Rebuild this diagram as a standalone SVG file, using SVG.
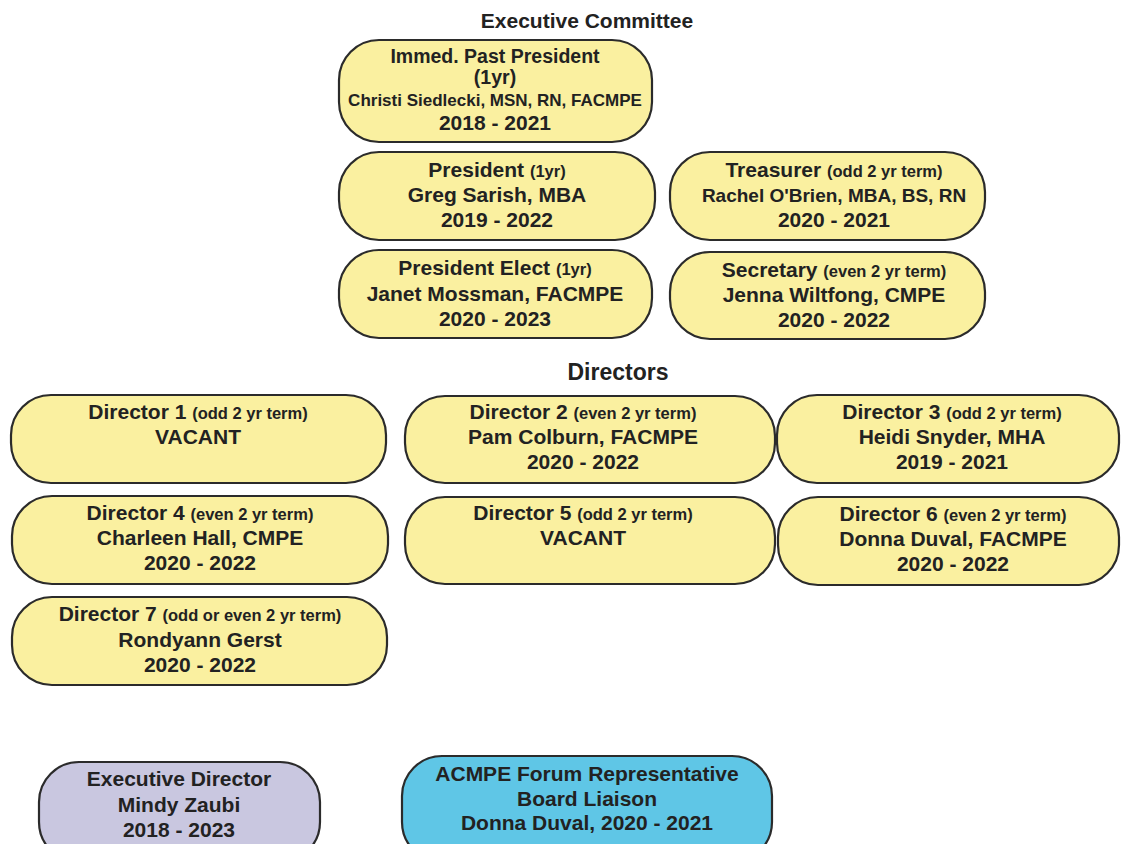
<svg xmlns="http://www.w3.org/2000/svg" width="1121" height="844" viewBox="0 0 1121 844">
<style>
.box{stroke:#2b2b2b;stroke-width:2.2;}
.y{fill:#faf0a0;}
.p{fill:#c9c7e0;}
.b{fill:#5fc6e6;}
text{font-family:"Liberation Sans",Arial,sans-serif;font-weight:bold;fill:#222;text-anchor:middle;}
.m{font-size:21px;}
.i{font-size:19.5px;}
.s{font-size:16.5px;}
.c{font-size:17px;}
.r{font-size:19px;}
.t{font-size:21px;}
.d{font-size:23px;}
</style>
<rect width="1121" height="844" fill="#ffffff"/>
<g id="titles">
<text class="t" x="587" y="28">Executive Committee</text>
<text class="d" x="618" y="380">Directors</text>
</g>
<g id="connectors"></g>
<g id="immed-past-president">
<rect class="box y" x="339" y="40" width="313" height="102" rx="40" ry="40"/>
<text class="i" x="495" y="63">Immed. Past President</text>
<text class="i" x="495" y="84">(1yr)</text>
<text class="c" x="495" y="106">Christi Siedlecki, MSN, RN, FACMPE</text>
<text class="m" x="495" y="130">2018 - 2021</text>
</g>
<g id="president">
<rect class="box y" x="339" y="152" width="316" height="88" rx="40" ry="40"/>
<text class="m" x="497" y="177">President <tspan class="s">(1yr)</tspan></text>
<text class="m" x="497" y="202">Greg Sarish, MBA</text>
<text class="m" x="497" y="227">2019 - 2022</text>
</g>
<g id="treasurer">
<rect class="box y" x="670" y="152" width="315" height="88" rx="40" ry="40"/>
<text class="m" x="834" y="177">Treasurer <tspan class="s">(odd 2 yr term)</tspan></text>
<text class="r" x="834" y="202">Rachel O'Brien, MBA, BS, RN</text>
<text class="m" x="834" y="227">2020 - 2021</text>
</g>
<g id="president-elect">
<rect class="box y" x="339" y="250" width="313" height="88" rx="40" ry="40"/>
<text class="m" x="495" y="275">President Elect <tspan class="s">(1yr)</tspan></text>
<text class="m" x="495" y="301">Janet Mossman, FACMPE</text>
<text class="m" x="495" y="326">2020 - 2023</text>
</g>
<g id="secretary">
<rect class="box y" x="670" y="252" width="315" height="87" rx="40" ry="40"/>
<text class="m" x="834" y="277">Secretary <tspan class="s">(even 2 yr term)</tspan></text>
<text class="m" x="834" y="302">Jenna Wiltfong, CMPE</text>
<text class="m" x="834" y="327">2020 - 2022</text>
</g>
<g id="director-1">
<rect class="box y" x="11" y="395" width="375" height="88" rx="40" ry="40"/>
<text class="m" x="198" y="419">Director 1 <tspan class="s">(odd 2 yr term)</tspan></text>
<text class="m" x="198" y="444">VACANT</text>
</g>
<g id="director-2">
<rect class="box y" x="405" y="396" width="370" height="87" rx="40" ry="40"/>
<text class="m" x="583" y="419">Director 2 <tspan class="s">(even 2 yr term)</tspan></text>
<text class="m" x="583" y="444">Pam Colburn, FACMPE</text>
<text class="m" x="583" y="469">2020 - 2022</text>
</g>
<g id="director-3">
<rect class="box y" x="777" y="395" width="342" height="88" rx="40" ry="40"/>
<text class="m" x="952" y="419">Director 3 <tspan class="s">(odd 2 yr term)</tspan></text>
<text class="m" x="952" y="444">Heidi Snyder, MHA</text>
<text class="m" x="952" y="469">2019 - 2021</text>
</g>
<g id="director-4">
<rect class="box y" x="12" y="496" width="376" height="88" rx="40" ry="40"/>
<text class="m" x="200" y="520">Director 4 <tspan class="s">(even 2 yr term)</tspan></text>
<text class="m" x="200" y="545">Charleen Hall, CMPE</text>
<text class="m" x="200" y="570">2020 - 2022</text>
</g>
<g id="director-5">
<rect class="box y" x="405" y="497" width="370" height="87" rx="40" ry="40"/>
<text class="m" x="583" y="520">Director 5 <tspan class="s">(odd 2 yr term)</tspan></text>
<text class="m" x="583" y="545">VACANT</text>
</g>
<g id="director-6">
<rect class="box y" x="778" y="497" width="341" height="88" rx="40" ry="40"/>
<text class="m" x="953" y="521">Director 6 <tspan class="s">(even 2 yr term)</tspan></text>
<text class="m" x="953" y="546">Donna Duval, FACMPE</text>
<text class="m" x="953" y="571">2020 - 2022</text>
</g>
<g id="director-7">
<rect class="box y" x="12" y="597" width="375" height="88" rx="40" ry="40"/>
<text class="m" x="200" y="621">Director 7 <tspan class="s">(odd or even 2 yr term)</tspan></text>
<text class="m" x="200" y="647">Rondyann Gerst</text>
<text class="m" x="200" y="672">2020 - 2022</text>
</g>
<g id="executive-director">
<rect class="box p" x="39" y="762" width="281" height="100" rx="40" ry="40"/>
<text class="m" x="179" y="786">Executive Director</text>
<text class="m" x="179" y="812">Mindy Zaubi</text>
<text class="m" x="179" y="837">2018 - 2023</text>
</g>
<g id="acmpe-forum">
<rect class="box b" x="402" y="756" width="370" height="106" rx="40" ry="40"/>
<text class="m" x="587" y="781">ACMPE Forum Representative</text>
<text class="m" x="587" y="806">Board Liaison</text>
<text class="m" x="587" y="830">Donna Duval, 2020 - 2021</text>
</g>
</svg>
